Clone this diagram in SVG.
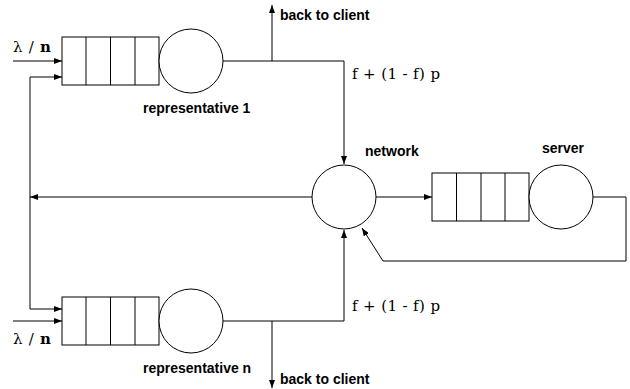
<svg xmlns="http://www.w3.org/2000/svg" width="630" height="389" viewBox="0 0 630 389">
  <defs>
    <marker id="arr" viewBox="0 0 8 6" refX="8" refY="3" markerWidth="8" markerHeight="6" markerUnits="userSpaceOnUse" orient="auto">
      <path d="M0,0 L8,3 L0,6 Z" fill="#000"/>
    </marker>
  </defs>
  <style>
    .ln { fill: none; stroke: #000; stroke-width: 1; }
    .box { fill: #fff; stroke: #000; stroke-width: 1; }
    .lbl { font-family: "Liberation Sans", Arial, sans-serif; font-weight: bold; font-size: 14px; fill: #000; }
    .math { font-family: "DejaVu Serif", "Liberation Serif", serif; font-size: 15px; fill: #000; }
  </style>
  <rect width="630" height="389" fill="#fff"/>

  <!-- connectors -->
  <g id="connectors" class="ln">
    <!-- arrivals into representative 1 -->
    <line x1="13" y1="61" x2="62" y2="61" marker-end="url(#arr)"/>
    <polyline points="30,309 30,77 62,77" marker-end="url(#arr)"/>
    <!-- representative 1 to network -->
    <polyline points="223,61 344,61 344,164" marker-end="url(#arr)"/>
    <line x1="272" y1="61" x2="272" y2="5" marker-end="url(#arr)"/>
    <!-- network back to representatives -->
    <line x1="312" y1="197" x2="30" y2="197" marker-end="url(#arr)"/>
    <!-- network to server queue -->
    <line x1="376" y1="197" x2="432" y2="197" marker-end="url(#arr)"/>
    <!-- server back to network -->
    <polyline points="593,197 626,197 626,261 383,261 362,228" marker-end="url(#arr)"/>
    <!-- arrivals into representative n -->
    <line x1="30" y1="309" x2="62" y2="309" marker-end="url(#arr)"/>
    <line x1="13" y1="321" x2="62" y2="321" marker-end="url(#arr)"/>
    <!-- representative n to network -->
    <polyline points="223,321 344,321 344,230" marker-end="url(#arr)"/>
    <line x1="272" y1="321" x2="272" y2="388" marker-end="url(#arr)"/>
  </g>

  <!-- representative 1 -->
  <g id="rep1">
    <rect class="box" x="62" y="37" width="97" height="48"/>
    <line class="ln" x1="86" y1="37" x2="86" y2="85"/>
    <line class="ln" x1="110.5" y1="37" x2="110.5" y2="85"/>
    <line class="ln" x1="135" y1="37" x2="135" y2="85"/>
    <circle class="box" cx="191" cy="61" r="32"/>
    <text class="lbl" x="143" y="113">representative 1</text>
  </g>

  <!-- representative n -->
  <g id="repn">
    <rect class="box" x="62" y="297" width="97" height="48"/>
    <line class="ln" x1="86" y1="297" x2="86" y2="345"/>
    <line class="ln" x1="110.5" y1="297" x2="110.5" y2="345"/>
    <line class="ln" x1="135" y1="297" x2="135" y2="345"/>
    <circle class="box" cx="191" cy="321" r="32"/>
    <text class="lbl" x="143" y="373">representative n</text>
  </g>

  <!-- network -->
  <g id="network">
    <circle class="box" cx="344" cy="197" r="32"/>
    <text class="lbl" x="365" y="156">network</text>
  </g>

  <!-- server -->
  <g id="server">
    <rect class="box" x="432" y="173" width="97" height="48"/>
    <line class="ln" x1="456.5" y1="173" x2="456.5" y2="221"/>
    <line class="ln" x1="481" y1="173" x2="481" y2="221"/>
    <line class="ln" x1="505" y1="173" x2="505" y2="221"/>
    <circle class="box" cx="561" cy="197" r="32"/>
    <text class="lbl" x="542" y="153">server</text>
  </g>

  <!-- labels -->
  <g id="labels">
    <text class="lbl" x="280" y="20">back to client</text>
    <text class="lbl" x="280" y="384">back to client</text>
    <text class="math" x="352" y="79" textLength="88" lengthAdjust="spacing">f + (1 - f) p</text>
    <text class="math" x="352" y="311" textLength="88" lengthAdjust="spacing">f + (1 - f) p</text>
    <text class="math" x="13" y="52" font-size="17" textLength="38" lengthAdjust="spacing">λ / <tspan font-weight="bold">n</tspan></text>
    <text class="math" x="13" y="344" font-size="17" textLength="38" lengthAdjust="spacing">λ / <tspan font-weight="bold">n</tspan></text>
  </g>
</svg>
